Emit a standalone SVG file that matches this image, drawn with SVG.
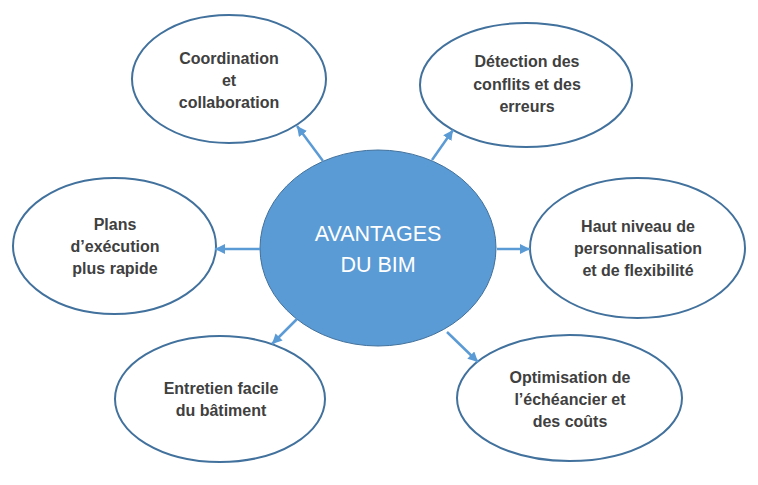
<svg xmlns="http://www.w3.org/2000/svg" width="758" height="485" viewBox="0 0 758 485">
<style>
.node{fill:#FFFFFF;stroke:#41719C;stroke-width:2}
.hub{fill:#5B9BD5;stroke:#41719C;stroke-width:1}
.lbl{font-family:"Liberation Sans",Arial,sans-serif;font-weight:bold;font-size:16px;fill:#404040;text-anchor:middle}
.hubl{font-family:"Liberation Sans",Arial,sans-serif;font-size:21.5px;fill:#FFFFFF;text-anchor:middle}
.con{stroke:#5B9BD5;stroke-width:2.5;fill:none;marker-end:url(#ah)}
</style>
<defs>
<marker id="ah" markerUnits="userSpaceOnUse" markerWidth="12" markerHeight="10" refX="10" refY="5" orient="auto">
<path d="M0,0 L10,5 L0,10 z" fill="#5B9BD5"/>
</marker>
</defs>
<rect width="758" height="485" fill="#FFFFFF"/>
<g id="hub">
<ellipse class="hub" cx="378" cy="248" rx="118" ry="98"/>
<text class="hubl" x="378" y="241">AVANTAGES</text>
<text class="hubl" x="378" y="272">DU BIM</text>
</g>
<g id="n1">
<ellipse class="node" cx="229" cy="79" rx="97" ry="64"/>
<text class="lbl" x="229" y="64">Coordination</text>
<text class="lbl" x="229" y="86">et</text>
<text class="lbl" x="229" y="108">collaboration</text>
</g>
<g id="n2">
<ellipse class="node" cx="526" cy="85" rx="106" ry="62"/>
<text class="lbl" x="527" y="67">Détection des</text>
<text class="lbl" x="527" y="90">conflits et des</text>
<text class="lbl" x="527" y="112">erreurs</text>
</g>
<g id="n3">
<ellipse class="node" cx="114.5" cy="246" rx="101.5" ry="68"/>
<text class="lbl" x="115" y="230">Plans</text>
<text class="lbl" x="115" y="252">d’exécution</text>
<text class="lbl" x="115" y="274">plus rapide</text>
</g>
<g id="n4">
<ellipse class="node" cx="637.5" cy="248" rx="107.5" ry="70"/>
<text class="lbl" x="638" y="232">Haut niveau de</text>
<text class="lbl" x="638" y="254">personnalisation</text>
<text class="lbl" x="638" y="276">et de flexibilité</text>
</g>
<g id="n5">
<ellipse class="node" cx="220" cy="399" rx="105" ry="63"/>
<text class="lbl" x="221" y="394">Entretien facile</text>
<text class="lbl" x="221" y="416">du bâtiment</text>
</g>
<g id="n6">
<ellipse class="node" cx="569.5" cy="398" rx="112.5" ry="63"/>
<text class="lbl" x="570" y="383">Optimisation de</text>
<text class="lbl" x="570" y="405">l’échéancier et</text>
<text class="lbl" x="570" y="427">des coûts</text>
</g>
<g id="connectors">
<line class="con" x1="323" y1="161" x2="297" y2="126"/>
<line class="con" x1="432" y1="160" x2="453" y2="130"/>
<line class="con" x1="260" y1="249" x2="215" y2="249"/>
<line class="con" x1="497" y1="249" x2="530" y2="249"/>
<line class="con" x1="297" y1="319" x2="272" y2="344"/>
<line class="con" x1="447" y1="332" x2="478" y2="362"/>
</g>
</svg>
